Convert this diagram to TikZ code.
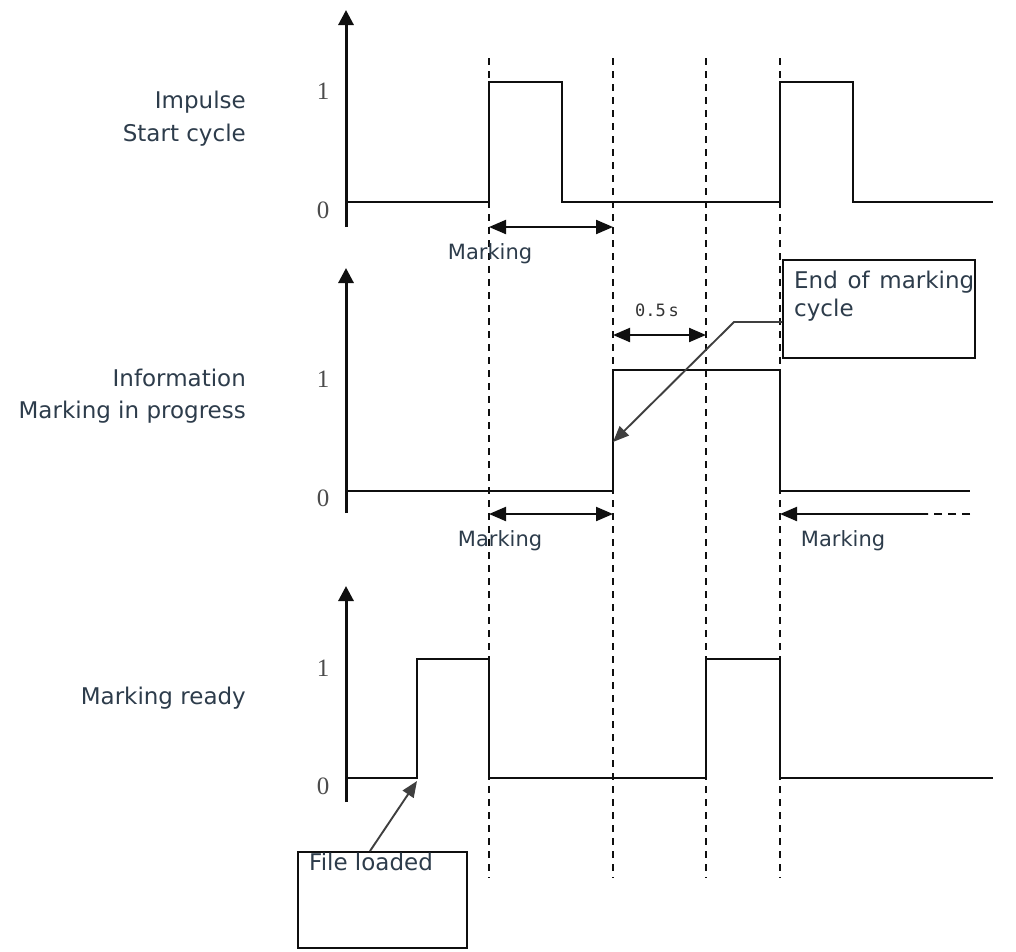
\documentclass[tikz,border=0pt]{standalone}
\usepackage{fontspec}
\setmainfont{DejaVu Sans}
\newfontfamily\numfont{Liberation Serif}
\newfontfamily\smallfont{DejaVu Sans Mono}
\usetikzlibrary{arrows.meta}
\definecolor{txt}{RGB}{45,60,75}
\definecolor{ln}{RGB}{15,15,15}
\begin{document}
\begin{tikzpicture}[x=1pt,y=-1pt,
  sig/.style={draw=ln,line width=2.3pt},
  axis/.style={draw=ln,line width=3pt,-{Triangle[length=15pt,width=15pt]}},
  guide/.style={draw=ln,line width=1.9pt,dash pattern=on 7pt off 6pt},
  dim/.style={draw=ln,line width=2.1pt,{Triangle[length=17pt,width=14pt]}-{Triangle[length=17pt,width=14pt]}},
  larrow/.style={draw=ln,line width=2.1pt,-{Triangle[length=17pt,width=14pt]}},
  call/.style={draw=ln!80,line width=1.9pt,-{Triangle[length=16pt,width=13pt]}},
  lbl/.style={text=txt,font=\fontsize{23}{25}\selectfont,inner sep=0pt},
  mlbl/.style={text=txt,font=\fontsize{21}{23}\selectfont,inner sep=0pt},
  num/.style={text=black!70,font=\numfont\fontsize{25}{27}\selectfont,inner sep=0pt},
  box/.style={draw=ln,line width=2.1pt,fill=white}
]
\useasboundingbox (0,0) rectangle (1016,951);

% dashed guides
\coordinate (gat) at (489,58); \coordinate (gab) at (489,878);
\coordinate (gbt) at (613,58); \coordinate (gbb) at (613,878);
\coordinate (gct) at (706,58); \coordinate (gcb) at (706,878);
\coordinate (gdt) at (780,58); \coordinate (gdb) at (780,878);
\draw[guide] (gat) -- (gab);
\draw[guide] (gbt) -- (gbb);
\draw[guide] (gct) -- (gcb);
\draw[guide] (gdt) -- (gdb);

% ---------- Signal 1 ----------
\coordinate (a1b) at (346,227); \coordinate (a1t) at (346,10);
\draw[axis] (a1b) -- (a1t);
\draw[sig] (346,202) -- (489,202) -- (489,82) -- (562,82) -- (562,202) -- (780,202) -- (780,82) -- (853,82) -- (853,202) -- (993,202);
\node[num] (one1) at (323,91) {1};
\node[num] (zero1) at (323,210) {0};
\node[lbl,anchor=base east] (l1a) at (246,108) {Impulse};
\node[lbl,anchor=base east] (l1b) at (246,141) {Start cycle};
\coordinate (d1a) at (489,227); \coordinate (d1b) at (613,227);
\draw[dim] (d1a) -- (d1b);
\node[mlbl] (m1) at (490,254) {Marking};

% ---------- Signal 2 ----------
\coordinate (a2b) at (346,513); \coordinate (a2t) at (346,268);
\draw[axis] (a2b) -- (a2t);
\draw[sig] (346,491) -- (613,491) -- (613,370) -- (780,370) -- (780,491) -- (970,491);
\node[num] (one2) at (323,379) {1};
\node[num] (zero2) at (323,498) {0};
\node[lbl,anchor=base east] (l2a) at (246,386) {Information};
\node[lbl,anchor=base east] (l2b) at (246,418) {Marking in progress};
\coordinate (d2a) at (489,514); \coordinate (d2b) at (613,514);
\draw[dim] (d2a) -- (d2b);
\node[mlbl] (m2) at (500,541) {Marking};
\coordinate (rs) at (970,514); \coordinate (rm) at (928,514); \coordinate (re) at (780,514);
\draw[draw=ln,line width=2.1pt,dash pattern=on 8pt off 6pt] (rs) -- (rm);
\draw[larrow] (rm) -- (re);
\node[mlbl] (m3) at (843,541) {Marking};
\coordinate (d3a) at (613,335); \coordinate (d3b) at (706,335);
\draw[dim] (d3a) -- (d3b);
\node[text=black!80,font=\smallfont\fontsize{17}{19}\selectfont,inner sep=0pt] (t05) at (657,310) {0.5\,s};

% End of marking cycle box
\node[box,minimum width=192pt,minimum height=98pt,anchor=north west,inner sep=0pt] (eb) at (782,259) {};
\node[lbl,anchor=base west] (eb1) at (794,288) {\makebox[180pt][s]{End of marking}};
\node[lbl,anchor=base west] (eb2) at (794,316) {cycle};
\coordinate (es) at (782,322);
\coordinate (ek) at (734,322);
\coordinate (etip) at (613,442);
\draw[call] (es) -- (ek) -- (etip);

% ---------- Signal 3 ----------
\coordinate (a3b) at (346,802); \coordinate (a3t) at (346,586);
\draw[axis] (a3b) -- (a3t);
\draw[sig] (346,778) -- (417,778) -- (417,659) -- (489,659) -- (489,778) -- (706,778) -- (706,659) -- (780,659) -- (780,778) -- (993,778);
\node[num] (one3) at (323,668) {1};
\node[num] (zero3) at (323,786) {0};
\node[lbl,anchor=base east] (l3) at (246,704) {Marking ready};

% File loaded box
\node[box,minimum width=169pt,minimum height=96pt,anchor=north west,inner sep=0pt] (fb) at (297,851) {};
\node[lbl,anchor=base west] (fbt) at (309,870) {File loaded};
\coordinate (fs) at (370,851);
\coordinate (ftip) at (417,781);
\draw[call] (fs) -- (ftip);
\end{tikzpicture}
\end{document}
